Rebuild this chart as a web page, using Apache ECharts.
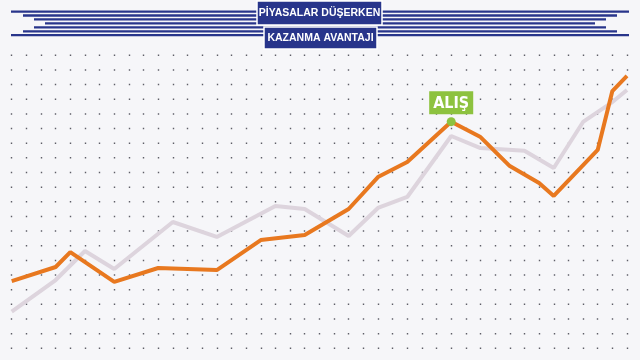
<!DOCTYPE html>
<html>
<head>
<meta charset="utf-8">
<script src="https://cdn.jsdelivr.net/npm/echarts@6/dist/echarts.min.js"></script>
<style>
html,body{margin:0;padding:0;background:#f6f6f9;}
#c{width:640px;height:360px;}
</style>
</head>
<body>
<div id="c"></div>
<script>
// Title texts
var titleLine1 = 'PİYASALAR DÜŞERKEN';
var titleLine2 = 'KAZANMA AVANTAJI';
var buyLabel = 'ALIŞ';

// Orange series (x = time step, y = value)
var orangeX = [0, 3, 4, 7, 10, 14, 17, 20, 23, 25, 27, 30, 32, 34, 36, 37, 40, 41, 42];
var orangeY = [4.59, 5.55, 6.57, 4.53, 5.48, 5.34, 7.39, 7.73, 9.51, 11.69, 12.72, 15.47, 14.42, 12.44, 11.28, 10.40, 13.54, 17.56, 18.59];
var buyIndex = 11;

// Gray series
var grayX = [0, 3, 5, 7, 11, 14, 18, 20, 23, 25, 27, 30, 32, 35, 37, 39, 41, 42];
var grayY = [2.50, 4.66, 6.64, 5.41, 8.62, 7.60, 9.72, 9.51, 7.67, 9.58, 10.33, 14.49, 13.67, 13.49, 12.31, 15.45, 16.81, 17.63];

function pairs(xs, ys){ return xs.map(function(x,i){ return [x, ys[i]]; }); }

var orangeData = pairs(orangeX, orangeY).map(function(p, i){
  if (i === buyIndex) {
    return {
      value: p,
      symbol: 'circle',
      symbolSize: 9,
      itemStyle: {color: '#8dc23f', borderWidth: 0},
      label: {
        show: true, position: 'top', distance: 3,
        formatter: buyLabel,
        backgroundColor: '#8dc23f', color: '#ffffff',
        fontFamily: '"DejaVu Sans Condensed"', fontWeight: 'bold', fontSize: 16,
        padding: [3, 4, 1, 4], lineHeight: 19
      }
    };
  }
  return {value: p};
});

var navy = '#28358b';
var hdr = [];
var lineYs = [11.7, 15.5, 19.4, 23.3, 27.3, 31.3, 35.2];
var lineStarts = [11, 23, 34, 45, 34, 23, 11];
lineYs.forEach(function(y, i){
  hdr.push({type:'line', shape:{x1:lineStarts[i], y1:y, x2:640-lineStarts[i], y2:y},
    style:{stroke:navy, lineWidth:2.3}, z: 10});
});
hdr.push({type:'rect', shape:{x:257, y:1, width:125, height:24},
  style:{fill:navy, stroke:'#ffffff', lineWidth:1.5}, z: 11});
hdr.push({type:'rect', shape:{x:264, y:27, width:113, height:22},
  style:{fill:navy, stroke:'#ffffff', lineWidth:1.5}, z: 11});
hdr.push({type:'text', x:319.5, y:13.5, style:{text:titleLine1, fill:'#ffffff',
  font:'bold 10.5px "Liberation Sans"', textAlign:'center', textVerticalAlign:'middle'}, z: 12});
hdr.push({type:'text', x:320.5, y:38.5, style:{text:titleLine2, fill:'#ffffff',
  font:'bold 10.5px "Liberation Sans"', textAlign:'center', textVerticalAlign:'middle'}, z: 12});

var chart = echarts.init(document.getElementById('c'));
chart.setOption({
  backgroundColor: '#f6f6f9',
  animation: false,
  grid: {left: 11.7, right: 13, top: 47.975, bottom: 4.375},
  xAxis: {
    type: 'value', min: 0, max: 42, interval: 1,
    axisLine: {show:false}, axisTick:{show:false}, axisLabel:{show:false},
    splitLine: {show:true, lineStyle:{color:'#5f5f68', width:1.4, type:[1.5, 13.15], dashOffset: 8.075}}
  },
  yAxis: {
    type: 'value', min: -0.5, max: 20.5,
    axisLine: {show:false}, axisTick:{show:false}, axisLabel:{show:false},
    splitLine: {show:false}
  },
  graphic: hdr,
  series: [
    {
      type: 'line', data: pairs(grayX, grayY), symbol: 'none',
      lineStyle: {color:'#ddd4dd', width:4}, z: 2, clip: false
    },
    {
      type: 'line', data: orangeData, symbol: 'none', showSymbol: true,
      lineStyle: {color:'#e8781f', width:4}, z: 3, clip: false
    }
  ]
});
</script>
</body>
</html>
